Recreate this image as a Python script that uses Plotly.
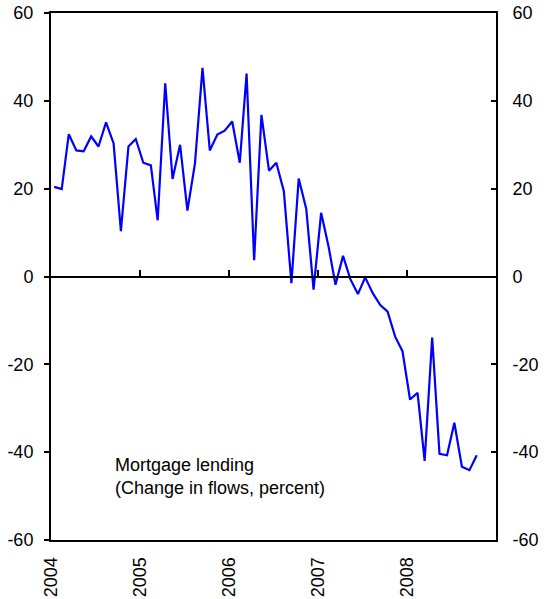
import plotly.graph_objects as go

# Monthly observations, Jan 2004 - Oct 2008
months = [f"{y}-{m:02d}-14" for y in range(2004, 2009) for m in range(1, 13)][:58]
mortgage = [20.4, 19.9, 32.4, 28.7, 28.5, 31.9, 29.6, 35.1, 30.3, 10.3, 29.6, 31.3,
            25.9, 25.3, 12.8, 44.0, 22.2, 30.0, 15.0, 25.7, 47.5, 28.7, 32.3, 33.2,
            35.3, 25.9, 46.2, 3.7, 36.8, 24.1, 25.9, 19.4, -1.5, 22.3, 15.4, -3.0,
            14.5, 6.7, -1.9, 4.7, -0.6, -4.0, -0.2, -3.8, -6.5, -8.0, -13.7, -17.0,
            -28.0, -26.5, -42.0, -13.9, -40.4, -40.7, -33.3, -43.3, -44.1, -40.7]

year_ticks = ["2004-01-01", "2005-01-01", "2006-01-01", "2007-01-01", "2008-01-01"]
year_labels = ["2004", "2005", "2006", "2007", "2008"]
y_ticks = [-60, -40, -20, 0, 20, 40, 60]
y_labels = ["-60", "-40", "-20", "0", "20", "40", "60"]
x_range = ["2004-01-01", "2009-01-01"]

FONT = "Arial, Liberation Sans, sans-serif"

fig = go.Figure()
fig.add_trace(go.Scatter(x=months, y=mortgage, mode="lines",
                         line=dict(color="#0000FF", width=2.2),
                         xaxis="x", yaxis="y", showlegend=False, hoverinfo="skip"))
# transparent copy to activate the secondary axes
fig.add_trace(go.Scatter(x=months, y=mortgage, mode="lines",
                         line=dict(color="rgba(0,0,0,0)", width=0),
                         xaxis="x2", yaxis="y2", showlegend=False, hoverinfo="skip"))

axis_line = dict(showline=True, linecolor="black", linewidth=2, showgrid=False,
                 zeroline=False, automargin=False)

fig.update_layout(
    width=544, height=599,
    margin=dict(l=51, r=48, t=13, b=59),
    paper_bgcolor="white", plot_bgcolor="white",
    font=dict(family=FONT, size=18, color="black"),
    xaxis=dict(type="date", range=x_range, tickmode="array", tickvals=year_ticks,
               ticktext=year_labels, tickangle=-90, ticks="", mirror=True,
               ticklabelstandoff=8, tickfont=dict(size=18), **axis_line),
    xaxis2=dict(type="date", range=x_range, overlaying="x", anchor="free", position=0.5,
                tickmode="array", tickvals=year_ticks, ticks="inside", ticklen=6,
                tickwidth=2, tickcolor="black", showticklabels=False, **axis_line),
    yaxis=dict(range=[-60, 60], tickmode="array", tickvals=y_ticks, ticktext=y_labels,
               ticks="outside", ticklen=5, tickwidth=2, tickcolor="black",
               ticklabelstandoff=7, **axis_line),
    yaxis2=dict(range=[-60, 60], overlaying="y", side="right", anchor="x",
                tickmode="array", tickvals=y_ticks, ticktext=y_labels,
                ticks="inside", ticklen=5, tickwidth=2, tickcolor="black",
                ticklabelstandoff=11, **axis_line),
    annotations=[dict(text="Mortgage lending<br>(Change in flows, percent)",
                      xref="paper", yref="y", x=0.14, y=-45.5,
                      xanchor="left", yanchor="middle", align="left",
                      showarrow=False, font=dict(size=18, family=FONT))],
)

fig.write_html("out.html", config={"displayModeBar": False},
               post_script="document.body.style.margin='0px';")
